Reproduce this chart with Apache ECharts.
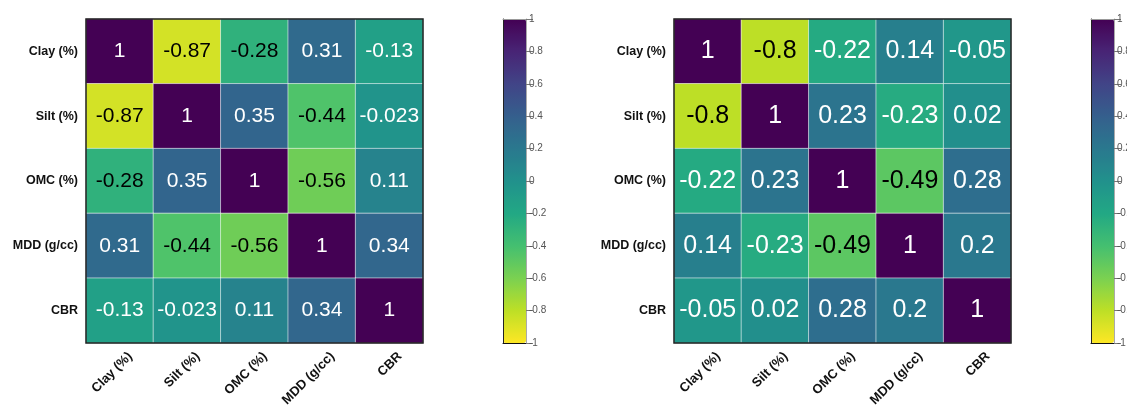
<!DOCTYPE html>
<html>
<head>
<meta charset="utf-8">
<script src="https://cdn.jsdelivr.net/npm/echarts@6/dist/echarts.min.js"></script>
<style>
  html, body { margin: 0; padding: 0; background: #fff; }
  #chart { width: 1127px; height: 408px; }
</style>
</head>
<body>
<div id="chart"></div>
<script>
/** two correlation heatmaps side by side, each with its own colour bar */

const labels = ["Clay (%)", "Silt (%)", "OMC (%)", "MDD (g/cc)", "CBR"];

const corrLeft = [
  [1, -0.87, -0.28, 0.31, -0.13],
  [-0.87, 1, 0.35, -0.44, -0.023],
  [-0.28, 0.35, 1, -0.56, 0.11],
  [0.31, -0.44, -0.56, 1, 0.34],
  [-0.13, -0.023, 0.11, 0.34, 1],
];

const corrRight = [
  [1, -0.8, -0.22, 0.14, -0.05],
  [-0.8, 1, 0.23, -0.23, 0.02],
  [-0.22, 0.23, 1, -0.49, 0.28],
  [0.14, -0.23, -0.49, 1, 0.2],
  [-0.05, 0.02, 0.28, 0.2, 1],
];

/** viridis, reversed so -1 is yellow and 1 is purple */
const viridis = [
  "#fde725", "#bddf26", "#7ad151", "#44bf70", "#22a884", "#21918c",
  "#2a788e", "#355f8d", "#414487", "#482475", "#440154",
];

const font = "'Liberation Sans', Arial, sans-serif";

/** flatten matrix to [col, row, value] items with readable text colour */
const toCells = (matrix) =>
  matrix.flatMap((row, r) =>
    row.map((value, c) => ({
      value: [c, r, value],
      label: { color: value < -0.25 ? "#000" : "#fff" },
    })),
  );

const heatGrid = (left) => ({
  left, top: 19, width: 337, height: 324,
  outerBoundsMode: "none",
  show: true, z: 5,
  backgroundColor: "transparent",
  borderColor: "#222", borderWidth: 1.5,
});

const barGrid = (left) => ({
  left, top: 19, width: 23, height: 324, z: 5,
  outerBoundsMode: "none",
});

const heatX = (gridIndex) => ({
  type: "category", gridIndex, data: labels,
  axisLine: { show: false }, axisTick: { show: false }, splitLine: { show: false },
  axisLabel: {
    rotate: 45, interval: 0, margin: 22,
    padding: [0, -15, 0, 0],
    color: "#111", fontSize: 13, fontWeight: "bold", fontFamily: font,
  },
});

const heatY = (gridIndex) => ({
  type: "category", gridIndex, data: labels, inverse: true,
  axisLine: { show: false }, axisTick: { show: false }, splitLine: { show: false },
  axisLabel: {
    interval: 0, margin: 8,
    color: "#111", fontSize: 12.5, fontWeight: "bold", fontFamily: font,
  },
});

const barX = (gridIndex, position, color) => ({
  type: "value", gridIndex, position, min: 0, max: 1, z: 6,
  axisLine: { show: true, onZero: false, lineStyle: { color, width: 1 } },
  axisTick: { show: false }, axisLabel: { show: false }, splitLine: { show: false },
});

const barY = (gridIndex) => [
  {
    type: "value", gridIndex, position: "right", min: -1, max: 1, interval: 0.2, z: 6,
    axisLine: { show: true, onZero: false, lineStyle: { color: "#aaa", width: 1 } },
    axisTick: { show: true, length: 7, lineStyle: { color: "#777" } },
    axisLabel: { margin: 3, color: "#555", fontSize: 10, fontFamily: font },
    splitLine: { show: false },
  },
  {
    type: "value", gridIndex, position: "left", min: -1, max: 1, z: 6,
    axisLine: { show: true, onZero: false, lineStyle: { color: "#222", width: 1 } },
    axisTick: { show: false }, axisLabel: { show: false }, splitLine: { show: false },
  },
];

const colorBar = (seriesIndex, left) => ({
  type: "continuous", seriesIndex, min: -1, max: 1,
  calculable: false, orient: "vertical", z: 1,
  left: left - 15, top: 4, itemWidth: 23, itemHeight: 324,
  inRange: { color: viridis },
});

const heatSeries = (matrix, xAxisIndex, yAxisIndex, fontSize) => ({
  type: "heatmap", xAxisIndex, yAxisIndex,
  data: toCells(matrix),
  itemStyle: { borderColor: "rgba(255,255,255,0.55)", borderWidth: 1 },
  label: {
    show: true, fontSize, fontFamily: font,
    formatter: (p) => String(p.value[2]),
  },
  emphasis: { disabled: true },
});

const option = {
  animation: false,
  grid: [heatGrid(86), barGrid(503), heatGrid(674), barGrid(1091)],
  xAxis: [
    heatX(0),
    barX(1, "bottom", "#111"), barX(1, "top", "#999"),
    heatX(2),
    barX(3, "bottom", "#111"), barX(3, "top", "#999"),
  ],
  yAxis: [heatY(0), ...barY(1), heatY(2), ...barY(3)],
  visualMap: [colorBar(0, 503), colorBar(1, 1091)],
  series: [
    heatSeries(corrLeft, 0, 0, 21),
    heatSeries(corrRight, 3, 3, 25),
  ],
};

const chart = echarts.init(document.getElementById("chart"), undefined, { renderer: "canvas" });
chart.setOption(option);
</script>
</body>
</html>
